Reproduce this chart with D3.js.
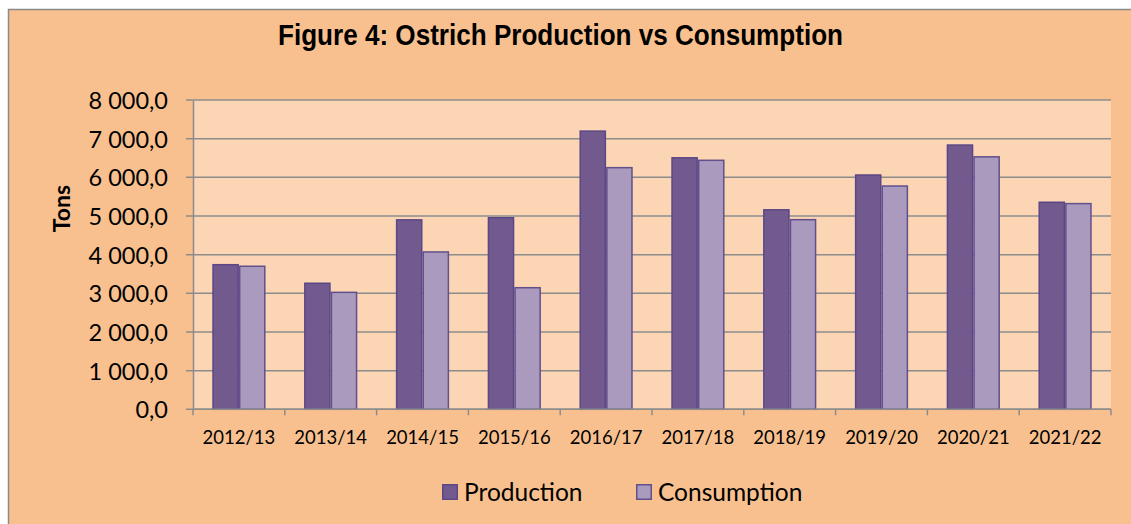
<!DOCTYPE html>
<html>
<head>
<meta charset="utf-8">
<script src="https://cdn.jsdelivr.net/npm/d3@7"></script>
<style>
  body { margin: 0; background: #fff; }
  svg { display: block; }
</style>
</head>
<body>
<div id="chart"></div>
<script>
// data
const seasons = ['2012/13', '2013/14', '2014/15', '2015/16', '2016/17', '2017/18', '2018/19', '2019/20', '2020/21', '2021/22'];
const production = [3740, 3260, 4900, 4955, 7195, 6505, 5160, 6060, 6835, 5355];
const consumption = [3700, 3025, 4070, 3145, 6250, 6440, 4905, 5775, 6530, 5320];
const seriesNames = ['Production', 'Consumption'];
const yTicks = [0, 1000, 2000, 3000, 4000, 5000, 6000, 7000, 8000];

const width = 1131;
const height = 524;
const plot = { left: 193, right: 1111, top: 100, bottom: 409.3 };
const colors = { Production: '#725a8f', Consumption: '#a99abe' };
const strokes = { Production: '#5c4786', Consumption: '#634f8c' };
const labelFont = 'Lato, "DejaVu Sans", sans-serif';

const svg = d3.select('#chart').append('svg')
  .attr('width', width).attr('height', height);

// outer chart area
svg.append('rect')
  .attr('x', 8.5).attr('y', 9.5)
  .attr('width', width + 10).attr('height', height + 10)
  .style('fill', '#f9c08f')
  .style('stroke', '#8a8a8a')
  .style('stroke-width', 1.5);

// plot area
svg.append('rect')
  .attr('x', plot.left).attr('y', plot.top)
  .attr('width', plot.right - plot.left).attr('height', plot.bottom - plot.top)
  .style('fill', '#fcd5b4');

// scales
const x0 = d3.scaleBand().domain(seasons).range([plot.left, plot.right])
  .paddingInner(0.42).paddingOuter(0.21);
const x1 = d3.scaleBand().domain(seriesNames).range([0, x0.bandwidth()]);
const y = d3.scaleLinear().domain([0, 8000]).range([plot.bottom, plot.top]);
const step = x0.step();

// gridlines
svg.append('g').selectAll('line').data(yTicks).enter().append('line')
  .attr('x1', plot.left - 7).attr('x2', plot.right)
  .attr('y1', d => y(d)).attr('y2', d => y(d))
  .style('stroke', '#8c8c8c')
  .style('stroke-width', 1.5);

// y axis
const yAxis = svg.append('g')
  .attr('transform', `translate(${plot.left},0)`)
  .call(d3.axisLeft(y).tickValues(yTicks).tickSize(0).tickPadding(25)
    .tickFormat(d => d3.format(',.1f')(d).replace(',', ' ').replace('.', ',')));
yAxis.select('.domain').style('stroke', '#8c8c8c').style('stroke-width', 1.5);
yAxis.selectAll('text')
  .attr('dy', '0.36em')
  .style('font-family', labelFont)
  .style('font-size', '23.5px')
  .style('fill', '#000');

// bars
const rows = seasons.map((s, i) => ({ season: s, Production: production[i], Consumption: consumption[i] }));
const groups = svg.append('g').selectAll('g').data(rows).enter().append('g')
  .attr('transform', d => `translate(${x0(d.season)},0)`);
groups.selectAll('rect')
  .data(d => seriesNames.map(k => ({ key: k, value: d[k] })))
  .enter().append('rect')
  .attr('x', d => x1(d.key) + 0.75)
  .attr('width', x1.bandwidth() - 1.5)
  .attr('y', d => y(d.value))
  .attr('height', d => y(0) - y(d.value))
  .style('fill', d => colors[d.key])
  .style('stroke', d => strokes[d.key])
  .style('stroke-width', 1.5);

// x axis line and ticks between categories
svg.append('line')
  .attr('x1', plot.left).attr('x2', plot.right)
  .attr('y1', plot.bottom).attr('y2', plot.bottom)
  .style('stroke', '#8c8c8c').style('stroke-width', 1.5);
svg.append('g').selectAll('line').data(d3.range(seasons.length + 1)).enter().append('line')
  .attr('x1', d => plot.left + d * step).attr('x2', d => plot.left + d * step)
  .attr('y1', plot.bottom).attr('y2', plot.bottom + 6)
  .style('stroke', '#8c8c8c').style('stroke-width', 1.5);
svg.append('g').selectAll('text').data(seasons).enter().append('text')
  .attr('x', d => x0(d) + x0.bandwidth() / 2)
  .attr('y', 444)
  .style('text-anchor', 'middle')
  .style('font-family', labelFont)
  .style('font-size', '18.5px')
  .style('fill', '#000')
  .text(d => d);

// axis title
svg.append('text')
  .attr('transform', 'translate(70,208.5) rotate(-90)')
  .style('text-anchor', 'middle')
  .style('font-family', labelFont)
  .style('font-weight', 'bold')
  .style('font-size', '23px')
  .style('fill', '#000')
  .text('Tons');

// title
svg.append('text')
  .attr('x', 560.5)
  .attr('y', 45)
  .attr('textLength', 565)
  .attr('lengthAdjust', 'spacingAndGlyphs')
  .style('text-anchor', 'middle')
  .style('font-family', '"Liberation Sans Narrow", "Arial Narrow", "Liberation Sans", Arial, sans-serif')
  .style('font-weight', 'bold')
  .style('font-size', '29px')
  .style('fill', '#000')
  .text('Figure 4: Ostrich Production vs Consumption');

// legend
const legendX = [442, 636];
const legend = svg.append('g').selectAll('g').data(seriesNames).enter().append('g')
  .attr('transform', (d, i) => `translate(${legendX[i]},484)`);
legend.append('rect')
  .attr('x', 0.75).attr('y', 0.75)
  .attr('width', 14.5).attr('height', 14.5)
  .style('fill', d => colors[d])
  .style('stroke', d => strokes[d])
  .style('stroke-width', 1.5);
legend.append('text')
  .attr('x', 22).attr('y', 16.5)
  .style('font-family', labelFont)
  .style('font-size', '24.5px')
  .style('fill', '#000')
  .text(d => d);
</script>
</body>
</html>
